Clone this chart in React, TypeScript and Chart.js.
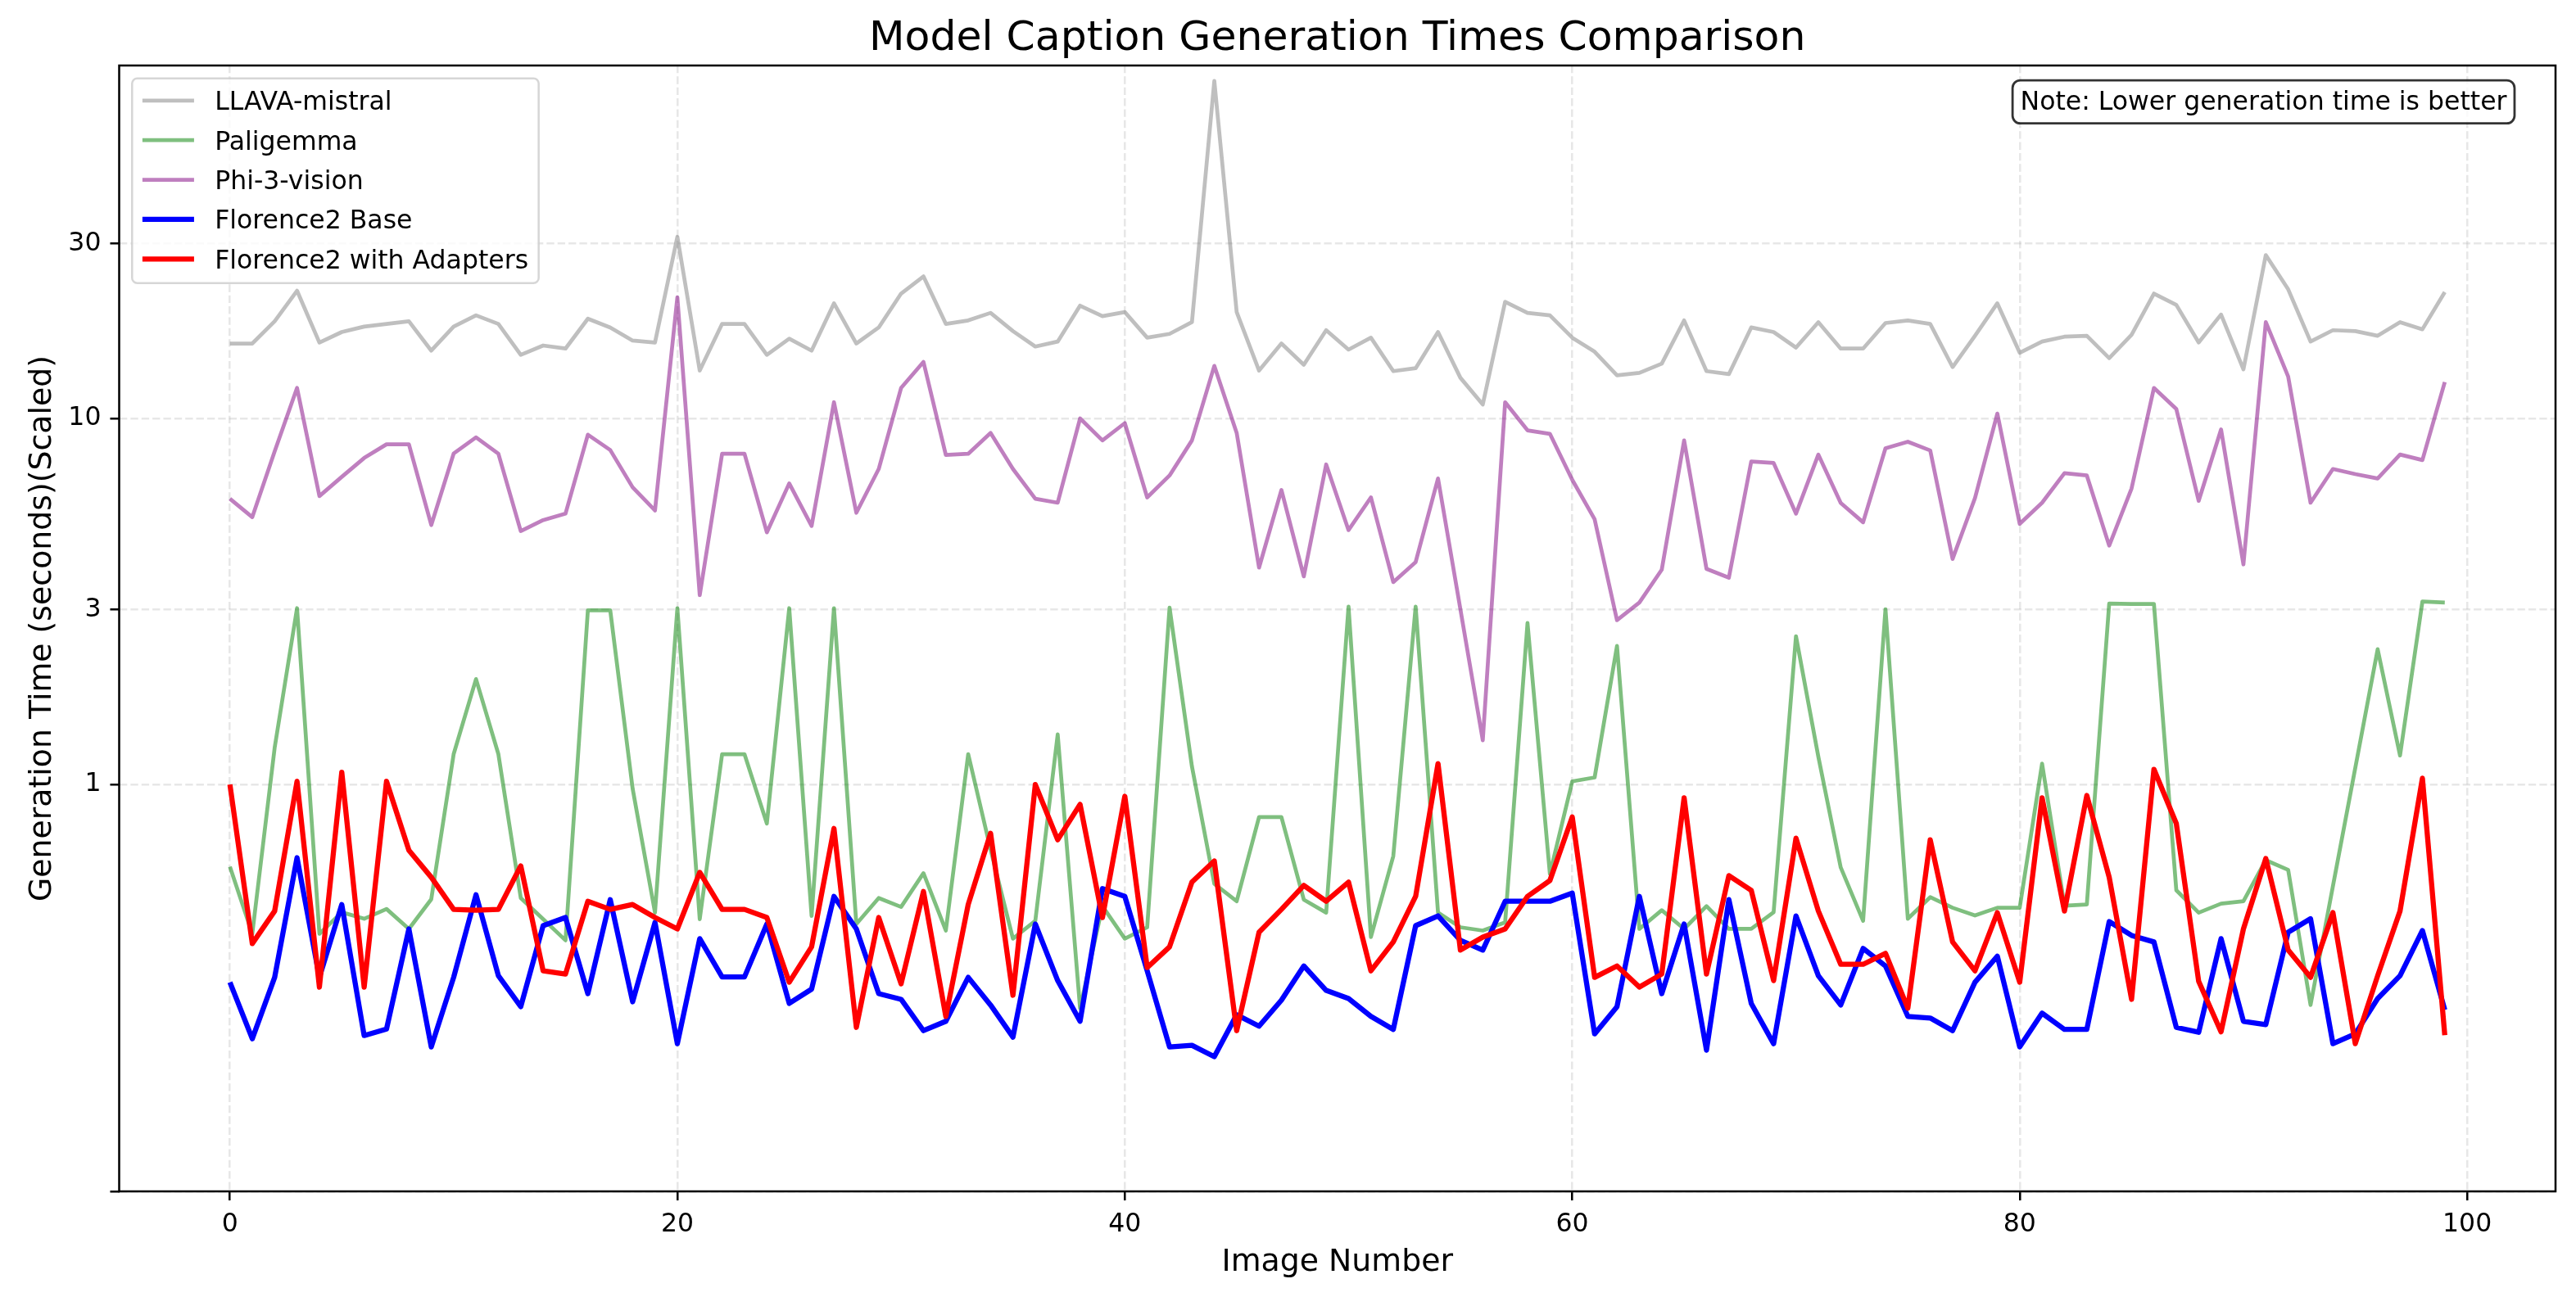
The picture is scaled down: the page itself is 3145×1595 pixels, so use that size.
import React, { useEffect, useRef } from 'react';
import { Chart, LinearScale, registerables } from 'chart.js';

// ---------------- data ----------------
const imageNumbers: number[] = Array.from({ length: 100 }, (_, i) => i);

const llavaMistral: number[] = [
  16.0, 16.0, 18.4, 22.3, 16.1, 17.2, 17.8, 18.1, 18.4, 15.3,
  17.8, 19.1, 18.1, 14.9, 15.8, 15.5, 18.7, 17.7, 16.3, 16.1,
  31.3, 13.5, 18.1, 18.1, 14.9, 16.5, 15.3, 20.6, 16.0, 17.7,
  21.9, 24.4, 18.1, 18.5, 19.4, 17.3, 15.7, 16.2, 20.3, 19.0,
  19.5, 16.6, 17.0, 18.3, 83.4, 19.5, 13.5, 16.0, 14.0, 17.4,
  15.4, 16.6, 13.45, 13.7, 17.2, 12.9, 10.9, 20.8, 19.4, 19.1,
  16.6, 15.2, 13.1, 13.3, 14.1, 18.5, 13.45, 13.2, 17.7, 17.2,
  15.6, 18.3, 15.5, 15.5, 18.2, 18.5, 18.1, 13.8, 16.8, 20.6,
  15.1, 16.2, 16.7, 16.8, 14.6, 16.9, 21.9, 20.4, 16.1, 19.2,
  13.6, 27.9, 22.5, 16.2, 17.4, 17.3, 16.8, 18.3, 17.5, 22.1,
];

const paligemma: number[] = [
  0.798, 0.633, 1.26, 3.03, 0.633, 0.686, 0.670, 0.694, 0.645, 0.718,
  1.21, 1.94, 1.21, 0.721, 0.669, 0.617, 2.99, 2.99, 0.99, 0.685,
  3.03, 0.669, 1.21, 1.21, 0.904, 3.03, 0.677, 3.03, 0.657, 0.721,
  0.699, 0.782, 0.641, 1.21, 0.840, 0.621, 0.665, 1.37, 0.450, 0.701,
  0.621, 0.649, 3.04, 1.12, 0.756, 0.713, 0.920, 0.920, 0.717, 0.685,
  3.06, 0.625, 0.824, 3.06, 0.685, 0.649, 0.641, 0.661, 2.76, 0.780,
  1.02, 1.045, 2.39, 0.645, 0.691, 0.645, 0.701, 0.645, 0.645, 0.686,
  2.54, 1.19, 0.796, 0.665, 3.01, 0.670, 0.723, 0.697, 0.678, 0.697,
  0.697, 1.14, 0.702, 0.705, 3.12, 3.11, 3.11, 0.740, 0.685, 0.707,
  0.713, 0.814, 0.790, 0.458, 0.75, 1.11, 2.34, 1.20, 3.16, 3.14,
];

const phi3Vision: number[] = [
  6.03, 5.37, 8.12, 12.1, 6.13, 6.92, 7.79, 8.49, 8.49, 5.11,
  8.01, 8.87, 8.0, 4.92, 5.27, 5.49, 9.02, 8.19, 6.48, 5.60,
  21.4, 3.29, 8.0, 8.0, 4.88, 6.64, 5.08, 11.06, 5.52, 7.27,
  12.1, 14.25, 7.94, 8.0, 9.12, 7.27, 6.03, 5.88, 9.99, 8.7,
  9.7, 6.08, 6.98, 8.7, 13.9, 9.12, 3.91, 6.37, 3.70, 7.48,
  4.95, 6.08, 3.57, 4.05, 6.85, 3.01, 1.32, 11.06, 9.27, 9.07,
  6.79, 5.30, 2.81, 3.14, 3.86, 8.7, 3.88, 3.67, 7.62, 7.55,
  5.49, 7.96, 5.87, 5.20, 8.28, 8.63, 8.17, 4.13, 6.05, 10.3,
  5.15, 5.88, 7.08, 6.98, 4.49, 6.43, 12.1, 10.6, 5.95, 9.32,
  3.99, 18.3, 13.0, 5.88, 7.27, 7.04, 6.85, 7.96, 7.69, 12.55,
];

const florence2Base: number[] = [
  0.514, 0.375, 0.526, 0.820, 0.526, 0.705, 0.383, 0.399, 0.645, 0.355,
  0.526, 0.729, 0.530, 0.454, 0.653, 0.673, 0.486, 0.717, 0.466, 0.661,
  0.363, 0.621, 0.527, 0.527, 0.657, 0.462, 0.497, 0.725, 0.645, 0.486,
  0.472, 0.395, 0.418, 0.526, 0.458, 0.379, 0.657, 0.518, 0.418, 0.744,
  0.725, 0.542, 0.355, 0.359, 0.331, 0.434, 0.406, 0.470, 0.554, 0.494,
  0.474, 0.430, 0.398, 0.653, 0.677, 0.617, 0.593, 0.713, 0.713, 0.713,
  0.733, 0.387, 0.454, 0.725, 0.486, 0.657, 0.347, 0.717, 0.462, 0.363,
  0.677, 0.530, 0.458, 0.597, 0.554, 0.430, 0.426, 0.395, 0.514, 0.578,
  0.355, 0.438, 0.398, 0.398, 0.663, 0.629, 0.613, 0.403, 0.391, 0.621,
  0.418, 0.410, 0.637, 0.670, 0.363, 0.387, 0.474, 0.530, 0.641, 0.446,
];

const florence2Adapters: number[] = [
  1.0, 0.609, 0.689, 1.02, 0.502, 1.08, 0.502, 1.02, 0.838, 0.772,
  0.693, 0.691, 0.693, 0.800, 0.542, 0.534, 0.713, 0.693, 0.705, 0.673,
  0.645, 0.784, 0.693, 0.693, 0.673, 0.514, 0.601, 0.892, 0.403, 0.673,
  0.510, 0.737, 0.430, 0.705, 0.880, 0.482, 1.0, 0.864, 0.951, 0.673,
  0.971, 0.550, 0.601, 0.760, 0.812, 0.395, 0.637, 0.693, 0.752, 0.713,
  0.760, 0.542, 0.613, 0.725, 1.14, 0.593, 0.625, 0.645, 0.725, 0.764,
  0.920, 0.526, 0.554, 0.502, 0.534, 0.967, 0.534, 0.776, 0.740, 0.518,
  0.868, 0.689, 0.558, 0.558, 0.585, 0.450, 0.864, 0.613, 0.542, 0.685,
  0.514, 0.967, 0.689, 0.973, 0.772, 0.472, 1.10, 0.904, 0.516, 0.392,
  0.645, 0.818, 0.593, 0.526, 0.685, 0.363, 0.530, 0.689, 1.04, 0.384,
];

const seriesLabels: string[] = [
  'LLAVA-mistral',
  'Paligemma',
  'Phi-3-vision',
  'Florence2 Base',
  'Florence2 with Adapters',
];

const xTickValues: number[] = [0, 20, 40, 60, 80, 100];
const yTickValues: number[] = [0, 1, 3, 10, 30];
const yTickLabels: string[] = ['', '1', '3', '10', '30'];

const TITLE = 'Model Caption Generation Times Comparison';
const X_LABEL = 'Image Number';
const Y_LABEL = 'Generation Time (seconds)(Scaled)';
const NOTE = 'Note: Lower generation time is better';

// ---------------- symlog scale (matplotlib-like) ----------------
const LINTHRESH = 1;
const BASE = 10;
const LINSCALE = 1;
const LINSCALE_ADJ = LINSCALE / (1 - 1 / BASE);

function symT(v: number): number {
  const a = Math.abs(v);
  if (a <= LINTHRESH) return v * LINSCALE_ADJ;
  return Math.sign(v) * LINTHRESH * (LINSCALE_ADJ + Math.log10(a / LINTHRESH));
}
function symInv(t: number): number {
  const a = Math.abs(t);
  const lim = LINTHRESH * LINSCALE_ADJ;
  if (a <= lim) return t / LINSCALE_ADJ;
  return Math.sign(t) * LINTHRESH * Math.pow(BASE, a / LINTHRESH - LINSCALE_ADJ);
}

class SymlogScale extends LinearScale {
  static id = 'symlog';
  static defaults = LinearScale.defaults;
  _tMin: number = 0;
  _tMax: number = 1;
  configure() {
    super.configure();
    this._tMin = symT(this.min);
    this._tMax = symT(this.max);
  }
  getPixelForValue(value: number) {
    if (value === null || value === undefined || isNaN(value)) return NaN;
    const range = this._tMax - this._tMin || 1;
    return this.getPixelForDecimal((symT(value) - this._tMin) / range);
  }
  getValueForPixel(pixel: number) {
    const d = this.getDecimalForPixel(pixel);
    return symInv(this._tMin + d * (this._tMax - this._tMin));
  }
}

Chart.register(...registerables, SymlogScale as any);

// ---------------- drawing helpers ----------------
const FONT = "'DejaVu Sans', 'Liberation Sans', sans-serif";
const PT = 227 / 72; // px per point

function roundRectPath(ctx: CanvasRenderingContext2D, x: number, y: number, w: number, h: number, r: number) {
  ctx.beginPath();
  ctx.moveTo(x + r, y);
  ctx.lineTo(x + w - r, y);
  ctx.arcTo(x + w, y, x + w, y + r, r);
  ctx.lineTo(x + w, y + h - r);
  ctx.arcTo(x + w, y + h, x + w - r, y + h, r);
  ctx.lineTo(x + r, y + h);
  ctx.arcTo(x, y + h, x, y + h - r, r);
  ctx.lineTo(x, y + r);
  ctx.arcTo(x, y, x + r, y, r);
  ctx.closePath();
}

const overlayPlugin = {
  id: 'mplOverlay',
  afterDatasetsDraw(chart: any) {
    const ctx: CanvasRenderingContext2D = chart.ctx;
    const a = chart.chartArea;
    const cx = (a.left + a.right) / 2;
    const cy = (a.top + a.bottom) / 2;
    const fs = 10 * PT;

    ctx.save();
    ctx.setLineDash([]);

    // axes frame
    ctx.strokeStyle = '#000';
    ctx.lineWidth = 0.8 * PT;
    ctx.strokeRect(a.left, a.top, a.right - a.left, a.bottom - a.top);

    // title
    ctx.fillStyle = '#000';
    ctx.textAlign = 'center';
    ctx.textBaseline = 'alphabetic';
    ctx.font = `${16 * PT}px ${FONT}`;
    ctx.fillText(TITLE, cx, a.top - 6 * PT);

    // axis labels
    ctx.font = `${12 * PT}px ${FONT}`;
    ctx.fillText(X_LABEL, cx, a.bottom + 97);
    ctx.save();
    ctx.translate(a.left - 83.5, cy);
    ctx.rotate(-Math.PI / 2);
    ctx.fillText(Y_LABEL, 0, 0);
    ctx.restore();

    // legend (upper left)
    ctx.font = `${fs}px ${FONT}`;
    const datasets = chart.data.datasets;
    let maxW = 0;
    datasets.forEach((d: any) => { maxW = Math.max(maxW, ctx.measureText(d.label).width); });
    const pad = 0.4 * fs;
    const handleLen = 2.0 * fs;
    const handleGap = 0.8 * fs;
    const rowH = 48.4;
    const lx = a.left + 0.5 * fs;
    const ly = a.top + 0.5 * fs;
    const lw = pad + handleLen + handleGap + maxW + pad;
    const lh = 250;
    roundRectPath(ctx, lx, ly, lw, lh, 0.2 * fs);
    ctx.fillStyle = 'rgba(255,255,255,0.8)';
    ctx.fill();
    ctx.strokeStyle = 'rgba(204,204,204,0.8)';
    ctx.lineWidth = 2.5;
    ctx.stroke();
    ctx.textAlign = 'left';
    datasets.forEach((d: any, i: number) => {
      const yc = ly + 27 + i * rowH;
      ctx.beginPath();
      ctx.strokeStyle = d.borderColor;
      ctx.lineWidth = d.borderWidth;
      ctx.lineCap = 'butt';
      ctx.moveTo(lx + pad, yc);
      ctx.lineTo(lx + pad + handleLen, yc);
      ctx.stroke();
      ctx.fillStyle = '#000';
      ctx.fillText(d.label, lx + pad + handleLen + handleGap, yc + 0.3645 * fs);
    });

    // note box (upper right)
    ctx.font = `${fs}px ${FONT}`;
    const tw = ctx.measureText(NOTE).width;
    const textRight = a.left + 0.98 * (a.right - a.left);
    const textLeft = textRight - tw;
    const boxPad = 0.3 * fs;
    const textTop = a.top + 0.02 * (a.bottom - a.top);
    const bx = textLeft - boxPad;
    const by = textTop - boxPad;
    const bw = tw + 2 * boxPad;
    const bh = 1.164 * fs + 2 * boxPad - 3;
    roundRectPath(ctx, bx, by, bw, bh, boxPad);
    ctx.fillStyle = 'rgba(255,255,255,0.8)';
    ctx.fill();
    ctx.strokeStyle = 'rgba(0,0,0,0.8)';
    ctx.lineWidth = 2.8;
    ctx.stroke();
    ctx.fillStyle = '#000';
    ctx.textAlign = 'left';
    ctx.fillText(NOTE, textLeft, textTop + 26.5);

    ctx.restore();
  },
};

// ---------------- component ----------------
export default function App() {
  const canvasRef = useRef<HTMLCanvasElement | null>(null);

  useEffect(() => {
    document.body.style.margin = '0';
    const canvas = canvasRef.current;
    if (!canvas) return;

    const toPoints = (vals: number[]) => imageNumbers.map((x, i) => ({ x, y: vals[i] }));
    const thin = 1.5 * PT;
    const thick = 2 * PT;
    const common = {
      pointRadius: 0,
      pointHoverRadius: 0,
      tension: 0,
      fill: false,
      borderJoinStyle: 'round' as const,
      borderCapStyle: 'butt' as const,
    };

    const gridCommon = {
      color: 'rgba(176,176,176,0.3)',
      lineWidth: 0.8 * PT,
      drawTicks: true,
      tickLength: 3.5 * PT,
      tickWidth: 0.8 * PT,
      tickColor: '#000',
      tickBorderDash: [],
    };
    const borderCommon = {
      display: false,
      dash: [3.7 * 0.8 * PT, 1.6 * 0.8 * PT],
    };
    const tickFont = { family: FONT, size: 10 * PT };

    const chart = new Chart(canvas, {
      type: 'line',
      data: {
        datasets: [
          { ...common, label: seriesLabels[0], data: toPoints(llavaMistral), borderColor: 'rgba(128,128,128,0.5)', borderWidth: thin, order: 5 },
          { ...common, label: seriesLabels[1], data: toPoints(paligemma), borderColor: 'rgba(0,128,0,0.5)', borderWidth: thin, order: 4 },
          { ...common, label: seriesLabels[2], data: toPoints(phi3Vision), borderColor: 'rgba(128,0,128,0.5)', borderWidth: thin, order: 3 },
          { ...common, label: seriesLabels[3], data: toPoints(florence2Base), borderColor: 'rgb(0,0,255)', borderWidth: thick, order: 2 },
          { ...common, label: seriesLabels[4], data: toPoints(florence2Adapters), borderColor: 'rgb(255,0,0)', borderWidth: thick, order: 1 },
        ],
      },
      options: {
        responsive: false,
        maintainAspectRatio: false,
        animation: false,
        devicePixelRatio: 1,
        events: [],
        layout: { padding: { top: 80, left: 0, right: 25, bottom: 0 } },
        plugins: {
          legend: { display: false },
          title: { display: false },
          tooltip: { enabled: false },
        },
        scales: {
          x: {
            type: 'linear',
            min: -4.95,
            max: 103.95,
            bounds: 'data',
            grid: gridCommon as any,
            border: borderCommon as any,
            ticks: {
              font: tickFont,
              color: '#000',
              padding: 3.5 * PT,
              maxRotation: 0,
              autoSkip: false,
              callback: (v: any) => String(v),
            },
            afterBuildTicks: (scale: any) => {
              scale.ticks = xTickValues.map((v) => ({ value: v }));
            },
            afterFit: (scale: any) => {
              scale.height = 140;
            },
          },
          y: {
            type: 'symlog' as any,
            min: 0,
            max: 91.9,
            bounds: 'data',
            grid: gridCommon as any,
            border: borderCommon as any,
            ticks: {
              font: tickFont,
              color: '#000',
              padding: 3.5 * PT,
              autoSkip: false,
              callback: (v: any) => {
                const idx = yTickValues.indexOf(Number(v));
                return idx >= 0 ? yTickLabels[idx] : '';
              },
            },
            afterBuildTicks: (scale: any) => {
              scale.ticks = yTickValues.map((v) => ({ value: v }));
            },
            afterFit: (scale: any) => {
              scale.width = 145.5;
            },
          } as any,
        },
      },
      plugins: [overlayPlugin],
    });

    return () => chart.destroy();
  }, []);

  return (
    <div style={{ width: 3145, height: 1595, background: '#ffffff' }}>
      <canvas ref={canvasRef} width={3145} height={1595} style={{ display: 'block', width: 3145, height: 1595 }} />
    </div>
  );
}
